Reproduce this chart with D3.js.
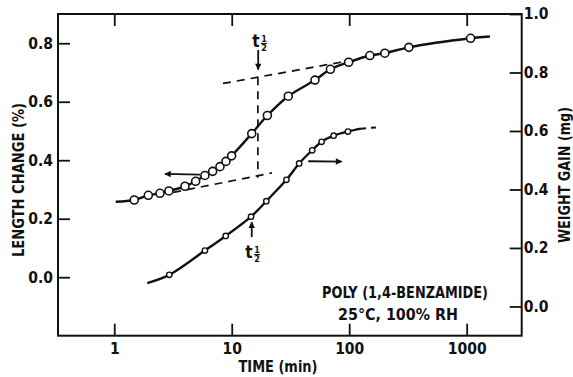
<!DOCTYPE html>
<html>
<head>
<meta charset="utf-8">
<script src="https://cdn.jsdelivr.net/npm/d3@7"></script>
<style>
  html, body { margin: 0; padding: 0; background: #fff; }
  svg { display: block; }
  text { font-family: "DejaVu Sans Condensed", "DejaVu Sans", sans-serif; font-weight: bold; fill: #111; }
</style>
</head>
<body>
<svg id="chart" width="573" height="377"></svg>
<script>
// ---------------- data ----------------
const timeTicks = [1, 10, 100, 1000];
const lengthTicks = [0.0, 0.2, 0.4, 0.6, 0.8];
const weightTicks = [0.0, 0.2, 0.4, 0.6, 0.8, 1.0];

// Length change (%) measurements (left axis)
const lengthTime  = [1.48, 1.95, 2.45, 2.92, 4.0, 4.93, 5.91, 6.88, 7.94, 8.93, 9.98, 14.8, 20.1, 30.3, 51.1, 69.2, 98.9, 150, 201, 322, 1080];
const lengthValue = [0.264, 0.280, 0.287, 0.295, 0.311, 0.328, 0.348, 0.362, 0.378, 0.396, 0.415, 0.491, 0.553, 0.619, 0.674, 0.711, 0.735, 0.758, 0.766, 0.786, 0.817];
// smooth curve extends beyond first/last point
const lengthCurveStart = [1.03, 0.258];
const lengthCurveEnd   = [1575, 0.823];

// Weight gain (mg) measurements (right axis)
const weightTime  = [2.94, 5.91, 8.89, 14.6, 19.7, 29.2, 37.5, 48.4, 58.2, 73.7, 97.5];
const weightValue = [0.108, 0.191, 0.241, 0.307, 0.360, 0.433, 0.489, 0.534, 0.563, 0.584, 0.598];
const weightCurveStart = [1.91, 0.080];
const weightCurveEnd   = [126, 0.608];
const weightDashedEnd  = [182, 0.613];

// half-time construction lines (left axis)
const upperTangent = [[8.42, 0.6625], [91.9, 0.7375]];
const lowerTangent = [[3.18, 0.290], [22.0, 0.3565]];
const halfTime = 16.7;
const halfTimeRange = [0.34, 0.684];

// ---------------- layout ----------------
const svg = d3.select("#chart");
const L = 58, R = 521.7, T = 14, B = 335.7;
const x  = d3.scaleLog().domain([0.332, 2940]).range([L, R]);
const yL = d3.scaleLinear().domain([-0.2, 0.9]).range([B, T]);
const yR = d3.scaleLinear().domain([-0.1, 1.0]).range([B, T]);

svg.append("defs").append("marker")
  .attr("id", "ah").attr("viewBox", "0 0 10 10").attr("refX", 9).attr("refY", 5)
  .attr("markerWidth", 4.2).attr("markerHeight", 3.6).attr("orient", "auto")
  .attr("markerUnits", "strokeWidth")
  .append("path").attr("d", "M0,0L10,5L0,10Z").attr("fill", "#111");

// axes
const fmt1 = d3.format(".1f");
function styleAxis(g) {
  g.select(".domain").remove();
  g.selectAll(".tick line").attr("stroke", "#111").attr("stroke-width", 1.8);
  g.selectAll(".tick text").style("font-size", "15.5px").attr("fill", "#111");
}
svg.append("g").attr("transform", `translate(0,${B})`)
  .call(d3.axisBottom(x).tickValues(timeTicks).tickFormat(d3.format("d")).tickSize(-12).tickPadding(7))
  .call(styleAxis);
svg.append("g").attr("transform", `translate(0,${T})`)
  .call(d3.axisTop(x).tickValues(timeTicks).tickFormat("").tickSize(-12))
  .call(styleAxis);
svg.append("g").attr("transform", `translate(${L},0)`)
  .call(d3.axisLeft(yL).tickValues(lengthTicks).tickFormat(fmt1).tickSize(-12).tickPadding(5))
  .call(styleAxis);
svg.append("g").attr("transform", `translate(${R},0)`)
  .call(d3.axisRight(yR).tickValues(weightTicks).tickFormat(fmt1).tickSize(-12).tickPadding(2))
  .call(styleAxis);

svg.append("rect").attr("x", L).attr("y", T).attr("width", R - L).attr("height", B - T)
  .attr("fill", "none").attr("stroke", "#111").attr("stroke-width", 2);

// curves
const lenPts = [lengthCurveStart, ...lengthTime.map((t, i) => [t, lengthValue[i]]), lengthCurveEnd];
const wPts = [weightCurveStart, ...weightTime.map((t, i) => [t, weightValue[i]]), weightCurveEnd];

const lineL = d3.line().x(d => x(d[0])).y(d => yL(d[1])).curve(d3.curveCatmullRom.alpha(0.5));
const lineR = d3.line().x(d => x(d[0])).y(d => yR(d[1])).curve(d3.curveCatmullRom.alpha(0.5));
const lineLstraight = d3.line().x(d => x(d[0])).y(d => yL(d[1]));
const lineRstraight = d3.line().x(d => x(d[0])).y(d => yR(d[1]));

svg.append("path").attr("d", lineL(lenPts)).attr("fill", "none").attr("stroke", "#111").attr("stroke-width", 2.4);
svg.append("path").attr("d", lineR(wPts)).attr("fill", "none").attr("stroke", "#111").attr("stroke-width", 2.4);
svg.append("path").attr("d", lineRstraight([weightCurveEnd, weightDashedEnd]))
  .attr("fill", "none").attr("stroke", "#111").attr("stroke-width", 2).attr("stroke-dasharray", "5,5");

// dashed construction lines
const dashStyle = sel => sel.attr("fill", "none").attr("stroke", "#111").attr("stroke-width", 1.7).attr("stroke-dasharray", "8,6");
svg.append("path").attr("d", lineLstraight(upperTangent)).call(dashStyle);
svg.append("path").attr("d", lineLstraight(lowerTangent)).call(dashStyle);
svg.append("path").attr("d", lineLstraight([[halfTime, halfTimeRange[1]], [halfTime, halfTimeRange[0]]])).call(dashStyle);

// markers
svg.append("g").selectAll("circle").data(lengthTime).join("circle")
  .attr("cx", d => x(d)).attr("cy", (d, i) => yL(lengthValue[i])).attr("r", 4)
  .attr("fill", "#fff").attr("stroke", "#111").attr("stroke-width", 1.6);
svg.append("g").selectAll("circle").data(weightTime).join("circle")
  .attr("cx", d => x(d)).attr("cy", (d, i) => yR(weightValue[i])).attr("r", 2.7)
  .attr("fill", "#fff").attr("stroke", "#111").attr("stroke-width", 1.4);

// arrows
function arrow(x1, y1, x2, y2, w) {
  svg.append("line").attr("x1", x1).attr("y1", y1).attr("x2", x2).attr("y2", y2)
    .attr("stroke", "#111").attr("stroke-width", w || 1.8).attr("marker-end", "url(#ah)");
}
arrow(x(5.36), yL(0.351), x(2.70), yL(0.353));
arrow(x(44.8), yR(0.4965), x(86.3), yR(0.4955));
// t1/2 markers
arrow(x(halfTime) + 0.3, yL(0.777), x(halfTime) + 0.3, yL(0.71), 1.8);
arrow(x(14.8), yR(0.237), x(14.8), yR(0.288), 1.8);

function tHalf(px, py) {
  const g = svg.append("g").attr("transform", `translate(${px},${py})`);
  g.append("text").attr("x", 0).attr("y", 0).attr("text-anchor", "middle").style("font-size", "17px").text("t");
  g.append("text").attr("x", 8).attr("y", -5).attr("text-anchor", "middle").style("font-size", "9px").text("1");
  g.append("line").attr("x1", 5).attr("x2", 11).attr("y1", -3.5).attr("y2", -3.5).attr("stroke", "#111").attr("stroke-width", 1);
  g.append("text").attr("x", 8).attr("y", 4).attr("text-anchor", "middle").style("font-size", "9px").text("2");
}
tHalf(256, 47);
tHalf(249, 258);

// labels
function label(txt, px, py, len, size, rot) {
  svg.append("text").attr("transform", `translate(${px},${py}) rotate(${rot || 0})`)
    .attr("text-anchor", "middle").style("font-size", size + "px")
    .attr("textLength", len).attr("lengthAdjust", "spacingAndGlyphs").text(txt);
}
label("LENGTH CHANGE (%)", 24, 180, 154, 15.5, -90);
label("WEIGHT GAIN (mg)", 570, 175, 136, 15.5, -90);
label("TIME (min)", 278, 372, 79, 15.5);
label("POLY (1,4-BENZAMIDE)", 405, 298, 166, 15.5);
label("25°C, 100% RH", 398, 320, 120, 15.5);
</script>
</body>
</html>
